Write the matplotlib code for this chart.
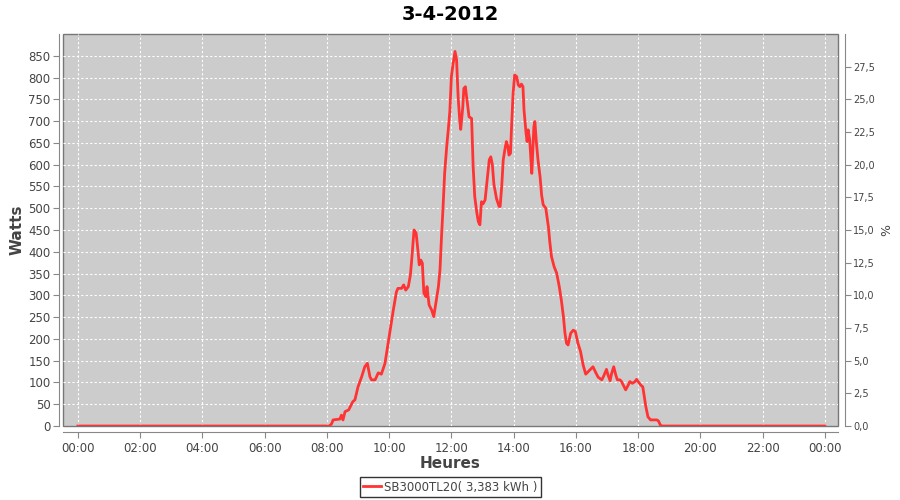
import matplotlib
matplotlib.use("Agg")
import numpy as np
import matplotlib.pyplot as plt
from matplotlib.ticker import FuncFormatter

# production of 3-4-2012, times
times = ["00:00", "08:05", "08:09", "08:12", "08:25", "08:28", "08:31", "08:35", "08:42", "08:50",
         "08:54", "09:00", "09:07", "09:13", "09:18", "09:23", "09:26", "09:33", "09:39", "09:45",
         "09:52", "09:58", "10:05", "10:08", "10:14", "10:17", "10:24", "10:28", "10:32", "10:37",
         "10:41", "10:43", "10:48", "10:52", "10:56", "10:58", "11:01", "11:04", "11:07", "11:11",
         "11:13", "11:17", "11:22", "11:26", "11:30", "11:35", "11:38", "11:41", "11:44", "11:47",
         "11:51", "11:54", "11:57", "12:00", "12:03", "12:07", "12:10", "12:13", "12:16", "12:18",
         "12:22", "12:24", "12:27", "12:30", "12:34", "12:39", "12:42", "12:45", "12:49", "12:52",
         "12:55", "12:58", "13:01", "13:05", "13:09", "13:13", "13:16", "13:19", "13:22", "13:27",
         "13:32", "13:34", "13:37", "13:40", "13:43", "13:46", "13:49", "13:51", "13:54", "13:56",
         "13:59", "14:02", "14:06", "14:09", "14:12", "14:15", "14:18", "14:20", "14:24", "14:26",
         "14:28", "14:31", "14:35", "14:36", "14:39", "14:41", "14:44", "14:47", "14:51", "14:54",
         "14:57", "15:02", "15:07", "15:10", "15:13", "15:18", "15:23", "15:28", "15:32", "15:36",
         "15:39", "15:42", "15:45", "15:50", "15:55", "15:59", "16:04", "16:09", "16:14", "16:19",
         "16:24", "16:28", "16:33", "16:39", "16:43", "16:50", "16:53", "16:59", "17:02", "17:06",
         "17:09", "17:13", "17:17", "17:20", "17:25", "17:28", "17:33", "17:36", "17:41", "17:44",
         "17:49", "17:54", "17:57", "18:00", "18:05", "18:09", "18:11", "18:15", "18:19", "18:24",
         "18:36", "18:39", "18:43", "18:45", "24:00"]
watts = [0, 0, 5, 14, 16, 25, 14, 33, 37, 56,
         60, 90, 113, 136, 144, 113, 106, 106, 122, 119,
         144, 190, 243, 266, 308, 316, 316, 324, 312, 320,
         347, 374, 450, 443, 397, 370, 381, 374, 305, 297,
         320, 278, 266, 251, 282, 320, 358, 435, 504, 580,
         642, 680, 722, 802, 829, 860, 841, 756, 703, 681,
         733, 775, 779, 749, 710, 706, 595, 527, 490, 469,
         462, 515, 510, 519, 565, 611, 618, 600, 555, 522,
         504, 504, 550, 611, 634, 653, 642, 622, 626, 687,
         764, 806, 802, 783, 779, 785, 779, 726, 672, 653,
         680, 657, 580, 603, 687, 699, 649, 611, 572, 530,
         508, 500, 458, 420, 389, 366, 351, 320, 289, 251,
         213, 190, 186, 213, 220, 217, 190, 171, 140, 119,
         125, 130, 136, 121, 112, 106, 113, 130, 117, 104,
         121, 136, 117, 106, 106, 102, 90, 83, 94, 102,
         98, 102, 107, 102, 94, 90, 75, 44, 21, 14,
         14, 12, 2, 0, 0]
tick_labels = ["00:00", "02:00", "04:00", "06:00", "08:00", "10:00", "12:00",
               "14:00", "16:00", "18:00", "20:00", "22:00", "00:00"]
legend_label = "SB3000TL20( 3,383 kWh )"

hours = [int(t[:2]) + int(t[3:]) / 60.0 for t in times]

txt = "#444444"
axc = "#888888"

fig = plt.figure(figsize=(9, 5), dpi=100)
ax = fig.add_axes([0.07, 0.148, 0.861, 0.784])
ax.set_facecolor("#cccccc")
ax.patch.set_edgecolor("#777777")
ax.patch.set_linewidth(1.0)

ax.plot(hours, watts, color="#ff3333", lw=2.0, label=legend_label, zorder=3)

ax.set_xlim(-0.48, 24.42)
ax.set_ylim(0, 900)
ax.set_xticks(np.arange(0, 25, 2))
ax.set_xticklabels(tick_labels)
ax.set_yticks(np.arange(0, 851, 50))
ax.grid(True, color="white", ls=(0, (2, 2)), lw=0.8)
ax.set_axisbelow(True)

for s in ["top", "right"]:
    ax.spines[s].set_visible(False)
ax.spines["left"].set_position(("outward", 3))
ax.spines["bottom"].set_position(("outward", 4))
ax.spines["left"].set_color(axc)
ax.spines["bottom"].set_color(axc)
ax.tick_params(colors=axc, labelcolor=txt, labelsize=8.5, length=4, width=0.8)
ax.tick_params(axis="y", pad=2)

ax2 = ax.twinx()
ax2.set_ylim(0, 30)
ax2.set_yticks(np.arange(0, 27.6, 2.5))
ax2.yaxis.set_major_formatter(FuncFormatter(lambda v, p: ("%.1f" % v).replace(".", ",")))
for s in ["top", "left", "bottom"]:
    ax2.spines[s].set_visible(False)
ax2.spines["right"].set_position(("outward", 5))
ax2.spines["right"].set_color(axc)
ax2.tick_params(colors=axc, labelcolor=txt, labelsize=7, length=4, width=0.8, pad=2)
ax2.set_ylabel("%", color=txt, fontsize=9, labelpad=4)

ax.set_xlabel("Heures", color=txt, fontsize=11, fontweight="bold", labelpad=1)
ax.set_ylabel("Watts", color=txt, fontsize=11, fontweight="bold", labelpad=3)
fig.suptitle("3-4-2012", fontsize=14, fontweight="bold", y=0.99)

leg = ax.legend(loc="upper center", bbox_to_anchor=(0.5, -0.115), fontsize=8.5,
                frameon=True, fancybox=False, handlelength=1.5, handletextpad=0.3,
                borderpad=0.3, labelcolor=txt)
leg.get_frame().set_edgecolor("black")
leg.get_frame().set_linewidth(1.0)

fig.savefig("out.png", dpi=100)
